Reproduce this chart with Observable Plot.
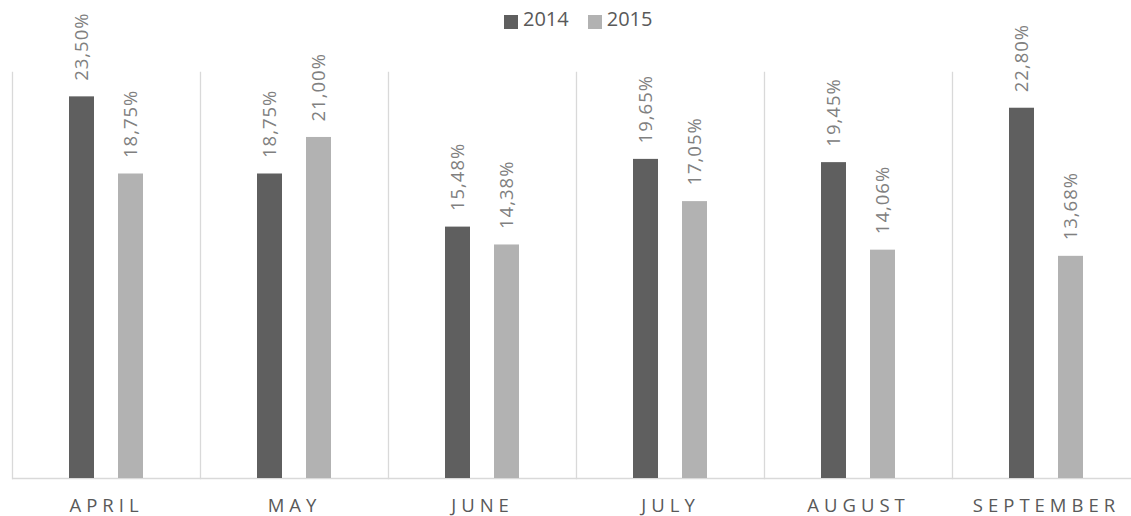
<!DOCTYPE html>
<html>
<head>
<meta charset="utf-8">
<script src="https://cdn.jsdelivr.net/npm/d3@7"></script>
<script src="https://cdn.jsdelivr.net/npm/@observablehq/plot@0.6"></script>
<style>
  html, body { margin: 0; padding: 0; background: #fff; overflow: hidden; }
  #legend { position: absolute; left: 0; top: 0; height: 40px; width: 1131px; z-index: 2; font-family: "Open Sans", sans-serif; font-size: 20px; color: #595959; }
  #legend .items { position: absolute; left: 504px; top: 5px; display: flex; align-items: center; line-height: normal; }
  #legend .sw { width: 14px; height: 14px; display: inline-block; margin-right: 5px; position: relative; top: 3px; }
  #legend .item { display: flex; align-items: center; margin-right: 19px; }
  #chart g[aria-label^="fx-axis"] text { letter-spacing: 5px; fill: #595959; }
  #chart g[aria-label="text"] text { letter-spacing: 1px; }
</style>
</head>
<body>
<div id="legend"><div class="items"></div></div>
<div id="chart"></div>
<script>
const months = ["APRIL", "MAY", "JUNE", "JULY", "AUGUST", "SEPTEMBER"];
const years = ["2014", "2015"];
const values2014 = [23.50, 18.75, 15.48, 19.65, 19.45, 22.80];
const values2015 = [18.75, 21.00, 14.38, 17.05, 14.06, 13.68];
const colors = ["#5f5f5f", "#b2b2b2"];

const data = [];
months.forEach((m, i) => {
  data.push({month: m, year: years[0], value: values2014[i]});
  data.push({month: m, year: years[1], value: values2015[i]});
});

const fmt = v => v.toFixed(2).replace(".", ",") + "%";

// legend
const items = document.querySelector("#legend .items");
years.forEach((y, i) => {
  const it = document.createElement("span");
  it.className = "item";
  const sw = document.createElement("span");
  sw.className = "sw";
  sw.style.background = colors[i];
  it.appendChild(sw);
  it.appendChild(document.createTextNode(y));
  items.appendChild(it);
});

const chart = Plot.plot({
  width: 1131,
  height: 516,
  marginLeft: 10,
  marginRight: -11,
  marginTop: 72,
  marginBottom: 38,
  style: {fontFamily: "Open Sans, sans-serif", fontSize: "18.5px", color: "#595959", background: "#fff"},
  facet: {data, x: "month"},
  fx: {domain: months, padding: 0, label: null, tickSize: 0, tickPadding: 20, axis: "bottom"},
  x: {domain: years, paddingInner: 0.488, paddingOuter: 1.13, axis: null},
  y: {domain: [0, 25], axis: null},
  color: {domain: years, range: colors},
  marks: [
    Plot.frame({anchor: "left", stroke: "#d9d9d9", strokeWidth: 1.3}),
    Plot.ruleY([0], {stroke: "#d9d9d9", strokeWidth: 1.3}),
    Plot.barY(data, {x: "year", y: "value", fill: "year"}),
    Plot.text(data, {x: "year", y: "value", text: d => fmt(d.value), rotate: -90, textAnchor: "start", dy: -16, fill: "#808080", fontSize: 18.5})
  ]
});
document.getElementById("chart").appendChild(chart);
</script>
</body>
</html>
